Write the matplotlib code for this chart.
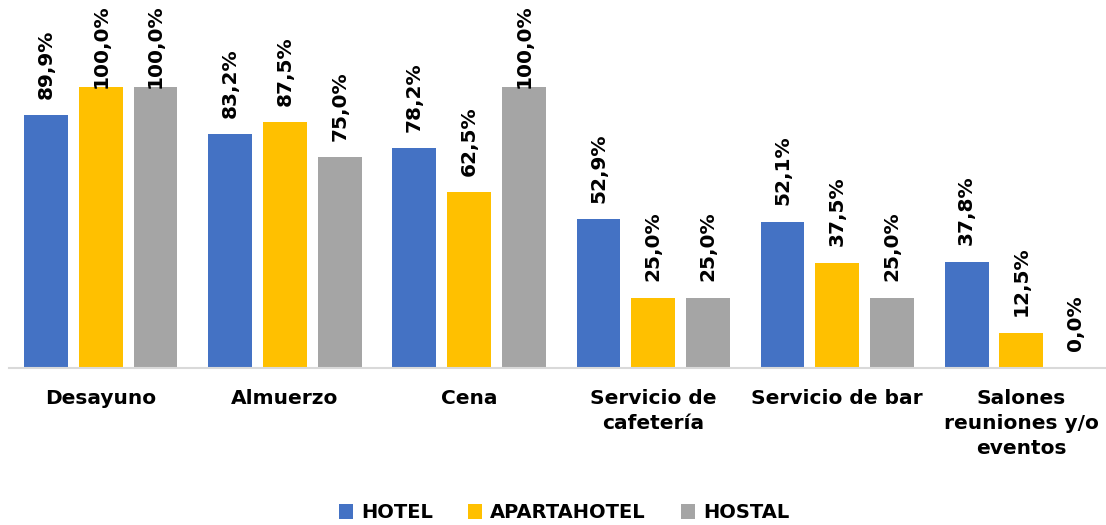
import matplotlib.pyplot as plt
import numpy as np

categories = ['Desayuno', 'Almuerzo', 'Cena', 'Servicio de\ncafetería',
              'Servicio de bar', 'Salones\nreuniones y/o\neventos']
hotel = [89.9, 83.2, 78.2, 52.9, 52.1, 37.8]
apartahotel = [100.0, 87.5, 62.5, 25.0, 37.5, 12.5]
hostal = [100.0, 75.0, 100.0, 25.0, 25.0, 0.0]

series = [('HOTEL', hotel, '#4472C4'),
          ('APARTAHOTEL', apartahotel, '#FFC000'),
          ('HOSTAL', hostal, '#A5A5A5')]

plt.rcParams['font.family'] = ['DejaVu Sans']
plt.rcParams['font.weight'] = 'bold'

fig = plt.figure(figsize=(11.06, 5.25), dpi=100)
ax = fig.add_axes([0.008, 0.299, 0.992, 0.701])

x = np.arange(len(categories))
step = 0.297
width = 0.238
ymax = 131

for i, (name, vals, color) in enumerate(series):
    pos = x + (i - 1) * step
    ax.bar(pos, vals, width, color=color, label=name, zorder=2)
    for px, v in zip(pos, vals):
        txt = f'{v:.1f}%'.replace('.', ',')
        if v > 95:
            ax.annotate(txt, (px, ymax), xytext=(0, -3), textcoords='offset points',
                        rotation=90, ha='center', va='top', fontsize=14.5,
                        fontweight='bold')
        else:
            ax.annotate(txt, (px, v), xytext=(0, 12), textcoords='offset points',
                        rotation=90, ha='center', va='bottom', fontsize=14.5,
                        fontweight='bold')

ax.set_xlim(-0.5, len(categories) - 0.5 - 0.04)
ax.set_ylim(0, ymax)
ax.set_xticks(x)
ax.set_xticklabels(categories, fontsize=14.5, fontweight='bold', linespacing=1.4)
ax.tick_params(axis='x', length=0, pad=15)
ax.set_yticks([])
for s in ['top', 'right', 'left']:
    ax.spines[s].set_visible(False)
ax.spines['bottom'].set_color('#D9D9D9')
ax.spines['bottom'].set_linewidth(1.5)

fig.legend(loc='lower center', bbox_to_anchor=(0.51, -0.028), ncol=3, frameon=False,
           prop={'size': 14, 'weight': 'bold'}, handlelength=0.75, handleheight=0.75,
           columnspacing=1.8, handletextpad=0.4)

fig.savefig('out.png', dpi=100)
